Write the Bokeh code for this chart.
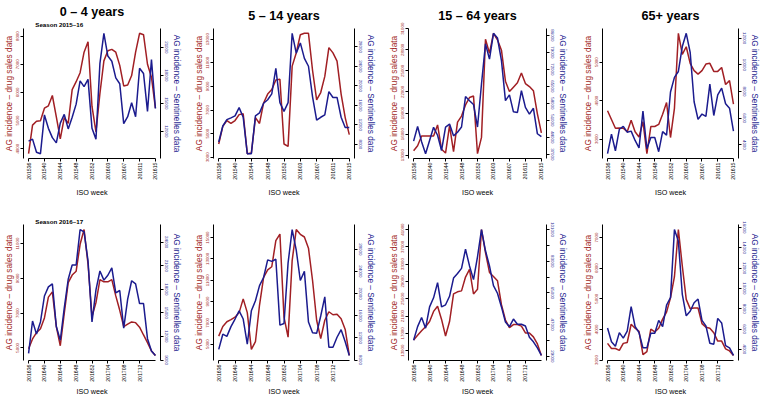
import math
from bokeh.plotting import figure
from bokeh.models import Range1d, LinearAxis, FixedTicker, Title
from bokeh.layouts import row, column
from bokeh.embed import file_html
from bokeh.resources import INLINE

FONT = "Liberation Sans"
RED = "#A11F24"
BLUE = "#1B1B8E"

# ---------------- data ----------------
age_groups = ["0 \u2013 4 years", "5 \u2013 14 years", "15 \u2013 64 years", "65+ years"]
seasons = ["Season 2015\u201316", "Season 2016\u201317"]
left_label = "AG incidence \u2013 drug sales data"
right_label = "AG incidence \u2013 Sentinelles data"

weeks_2015_16 = ["201536", "201537", "201538", "201539", "201540", "201541", "201542", "201543",
                 "201544", "201545", "201546", "201547", "201548", "201549", "201550", "201551",
                 "201552", "201553", "201601", "201602", "201603", "201604", "201605", "201606",
                 "201607", "201608", "201609", "201610", "201611", "201612", "201613", "201614",
                 "201615"]
weeks_2016_17 = ["201636", "201637", "201638", "201639", "201640", "201641", "201642", "201643",
                 "201644", "201645", "201646", "201647", "201648", "201649", "201650", "201651",
                 "201652", "201701", "201702", "201703", "201704", "201705", "201706", "201707",
                 "201708", "201709", "201710", "201711", "201712", "201713", "201714", "201715",
                 "201716"]
tick_idx_2015_16 = [0, 4, 8, 12, 16, 20, 24, 28, 32]
tick_idx_2016_17 = [0, 4, 8, 12, 16, 20, 24, 28]

# Season 2015-16: drug sales (red) and Sentinelles (blue)
drug_1516_0_4 = [3822, 4836, 4972, 4990, 5440, 5525, 5890, 5130, 4345, 5100, 4900, 6100, 6380, 6700, 7430, 7800,
                 5500, 4600, 5960, 7120, 7480, 7530, 7430, 6960, 6230, 6260, 6600, 7430, 8100, 8050, 7000, 6540, 5440]
sent_1516_0_4 = [10940, 11156, 9750, 9594, 13750, 12312, 11312, 10750, 12875, 13810, 12250, 13500, 14906, 17400,
                 16780, 17560, 12310, 11156, 19280, 22500, 20060, 19500, 17720, 17090, 12810, 13560, 15060, 13560,
                 18750, 18190, 14125, 19690, 14440]
drug_1516_5_14 = [4120, 5615, 6110, 5860, 6110, 6610, 6685, 3300, 3350, 6360, 5860, 7600, 8350, 8730, 9550, 9600,
                  4120, 3920, 10720, 11840, 13380, 13500, 13500, 10350, 7860, 8480, 9850, 12290, 11840, 11140,
                  8350, 6360, 4920]
sent_1516_5_14 = [8480, 11760, 13070, 13430, 13850, 15520, 13550, 6090, 6090, 13850, 14450, 16420, 17130, 18330,
                  23580, 16540, 14750, 16540, 30750, 26690, 28780, 25610, 24000, 17730, 12950, 13550, 14030, 18810,
                  17610, 17610, 13550, 11460, 11460]
drug_1516_15_64 = [13630, 14350, 15740, 15740, 15740, 15740, 17300, 13840, 13300, 17210, 13500, 17700, 18560,
                   20160, 21210, 21420, 13210, 15530, 29500, 27520, 30350, 29420, 27950, 23530, 22050, 22680,
                   23310, 24700, 23190, 22770, 22180, 18890, 16160]
sent_1516_15_64 = [42430, 48470, 42190, 37240, 42670, 48100, 44850, 38570, 48230, 49430, 44600, 46050, 48230,
                   60780, 59090, 57520, 48230, 65970, 82500, 76230, 86850, 84920, 75620, 59090, 61500, 54500,
                   54260, 63190, 56310, 53540, 55950, 45450, 44240]
drug_1516_65 = [3735, 3508, 3280, 3288, 3280, 3190, 3490, 3190, 3053, 3455, 2620, 3326, 3326, 3380, 3644, 3950,
                3040, 3800, 5750, 5200, 5400, 4970, 4780, 4690, 4780, 4950, 4970, 4760, 4760, 4860, 4420, 4520, 3910]
sent_1516_65 = [3340, 4810, 3560, 5170, 5390, 4950, 5030, 4330, 3780, 6530, 3710, 4550, 4550, 3490, 4990, 4730,
                7960, 9060, 9500, 11370, 12360, 10930, 7230, 5910, 6310, 6130, 8550, 6200, 7740, 8250, 7080, 6750, 5030]

# Season 2016-17
drug_1617_0_4 = [4950, 5510, 5870, 6100, 6720, 7920, 8220, 6220, 5120, 6980, 8750, 9190, 9410, 10960, 11810, 9810,
                 6800, 7600, 8930, 8800, 8800, 8930, 7990, 7160, 6220, 6360, 6490, 6450, 6190, 5740, 5300, 4820, 4560]
sent_1617_0_4 = [9850, 13970, 12300, 13850, 17150, 18310, 18700, 13270, 11520, 15600, 19280, 21100, 21100, 25610,
                 25300, 21610, 13850, 17920, 20330, 19170, 19790, 20720, 17540, 17850, 13070, 16760, 19090, 18700,
                 16180, 16180, 11720, 10160, 9580]
drug_1617_5_14 = [5750, 6660, 7100, 7300, 7530, 7960, 9250, 7960, 4510, 5230, 8670, 11260, 11970, 12260, 14700,
                  15330, 7530, 5660, 12840, 15750, 15300, 15050, 14000, 10970, 7240, 5520, 7240, 8040, 7760, 7810,
                  7380, 6380, 3940]
sent_1617_5_14 = [9920, 12660, 12270, 14030, 15400, 16880, 15400, 10850, 16880, 18690, 21430, 22900, 26080, 25810,
                  26190, 14300, 14580, 25540, 31560, 27840, 22360, 24000, 14850, 12930, 12820, 15950, 19400, 10300,
                  10300, 12110, 13480, 11290, 8820]
drug_1617_15_64 = [15480, 16550, 17610, 18530, 19740, 22080, 23280, 20230, 16400, 19740, 26120, 26610, 26830,
                   30020, 31790, 26120, 27180, 41000, 35690, 31080, 30160, 29170, 23640, 20090, 18320, 19030,
                   19030, 18670, 17110, 17110, 16190, 14560, 11900]
sent_1617_15_64 = [38130, 45880, 51040, 45010, 57070, 62230, 70850, 57070, 58270, 63100, 73430, 76010, 78940,
                   89790, 80320, 72570, 85480, 100980, 88930, 80320, 69120, 64820, 57070, 48460, 45880, 50180,
                   47250, 47250, 46220, 39850, 37270, 33820, 29520]
drug_1617_65 = [3545, 3376, 3376, 3317, 3545, 3574, 4168, 4040, 3940, 3178, 3277, 4010, 3920, 4040, 4337, 4564,
                5030, 5720, 7260, 6070, 4980, 4680, 4700, 4700, 4190, 4070, 4040, 3890, 3620, 3620, 3366, 3297, 3150]
sent_1617_65 = [6100, 4750, 4300, 5650, 5110, 5800, 8200, 6250, 5650, 4150, 4150, 5590, 5590, 6850, 6250, 8350,
                9100, 15790, 14650, 9400, 7300, 7750, 8590, 8950, 6850, 6310, 4600, 4510, 7050, 6600, 4360, 4150, 3400]

# axis tick values (drug sales / Sentinelles) per panel
drug_ticks = [
    [[4000, 5000, 6000, 7000, 8000], [3000, 5000, 7000, 9000, 11000, 13000],
     [13000, 16000, 19000, 22000, 25000, 28000, 31000], [3000, 4000, 5000]],
    [[5000, 7000, 9000, 11000], [5000, 7000, 9000, 11000, 13000, 15000],
     [13000, 17000, 21000, 25000, 29000, 33000, 37000, 41000], [3000, 4000, 5000, 6000, 7000]],
]
sent_ticks = [
    [[12000, 15000, 18000, 21000], [8000, 12000, 16000, 20000, 24000, 28000],
     [37000, 44000, 51000, 58000, 65000, 72000, 79000, 86000], [4000, 6000, 8000, 10000, 12000]],
    [[9000, 12000, 15000, 18000, 21000, 24000], [8000, 12000, 16000, 20000, 24000, 28000],
     [29000, 38000, 47000, 56000, 65000, 74000, 83000, 92000, 101000], [4000, 6000, 8000, 10000, 12000, 14000, 16000]],
]
sent_unlabelled = [38000, 56000, 74000, 92000]

drug = [[drug_1516_0_4, drug_1516_5_14, drug_1516_15_64, drug_1516_65],
        [drug_1617_0_4, drug_1617_5_14, drug_1617_15_64, drug_1617_65]]
sent = [[sent_1516_0_4, sent_1516_5_14, sent_1516_15_64, sent_1516_65],
        [sent_1617_0_4, sent_1617_5_14, sent_1617_15_64, sent_1617_65]]
weeks = [weeks_2015_16, weeks_2016_17]
tick_idx = [tick_idx_2015_16, tick_idx_2016_17]

# ---------------- layout ----------------
COL_W = [190, 190, 190, 192]
COL_L = [19, 23, 28, 32]
COL_R = [30, 26, 21, 20]
ROW_H = 199
ROW_T = [22, 25]
ROW_B = [35, 32]
XLAB_STANDOFF = [5, 2]


def base_axis(ax, color):
    ax.axis_line_color = "black"
    ax.axis_line_width = 1
    ax.major_tick_line_color = "black"
    ax.major_tick_out = 3
    ax.major_tick_in = 0
    ax.minor_tick_line_color = None
    ax.minor_tick_out = 0
    ax.major_label_text_font = FONT
    ax.major_label_text_color = color
    ax.major_label_standoff = 1
    ax.axis_label_text_font = FONT
    ax.axis_label_text_font_style = "normal"
    ax.axis_label_text_color = color
    ax.axis_label_standoff = 0


def panel(ri, ci):
    red = drug[ri][ci]
    blue = sent[ri][ci]
    wk = weeks[ri]
    n = len(red)
    xs = list(range(n))
    pad = 0.04
    span = xs[-1] - xs[0]
    x0, x1 = xs[0] - pad * span, xs[-1] + pad * span
    rlo, rhi = min(red), max(red)
    rd = rhi - rlo
    blo, bhi = min(blue), max(blue)
    bd = bhi - blo
    p = figure(width=COL_W[ci], height=ROW_H, x_range=Range1d(x0, x1),
               y_range=Range1d(rlo - pad * rd, rhi + pad * rd),
               output_backend="svg", toolbar_location=None, title_location=None,
               min_border_left=COL_L[ci], min_border_right=COL_R[ci],
               min_border_top=ROW_T[ri], min_border_bottom=ROW_B[ri])
    p.extra_y_ranges = {"blue": Range1d(blo - pad * bd, bhi + pad * bd)}
    p.xgrid.visible = False
    p.ygrid.visible = False
    p.outline_line_color = None
    p.background_fill_color = "white"
    p.border_fill_color = "white"

    p.line(xs, red, line_color=RED, line_width=1.5)
    p.line(xs, blue, line_color=BLUE, line_width=1.5, y_range_name="blue")

    # left axis (drug sales)
    lax = p.yaxis[0]
    base_axis(lax, RED)
    lax.ticker = FixedTicker(ticks=drug_ticks[ri][ci])
    lax.major_label_overrides = {t: str(t) for t in drug_ticks[ri][ci]}
    lax.major_label_text_font_size = "4.4px"
    lax.major_label_orientation = "vertical"
    lax.axis_label = left_label
    lax.axis_label_text_font_size = "8.3px"

    # right axis (Sentinelles)
    rax = LinearAxis(y_range_name="blue")
    base_axis(rax, BLUE)
    st = sent_ticks[ri][ci]
    rax.ticker = FixedTicker(ticks=st)
    rax.major_label_overrides = {t: ("" if (ri == 1 and ci == 2 and t in sent_unlabelled) else str(t)) for t in st}
    rax.major_label_text_font_size = "4.4px"
    rax.major_label_orientation = "vertical"
    rax.axis_label = right_label
    rax.axis_label_text_font_size = "8.3px"
    rax.axis_label_standoff = 1
    p.add_layout(rax, "right")

    # x axis
    xax = p.xaxis[0]
    base_axis(xax, "black")
    xax.ticker = FixedTicker(ticks=tick_idx[ri])
    xax.major_label_overrides = {i: wk[i] for i in tick_idx[ri]}
    xax.major_label_text_font_size = "5.2px"
    xax.major_label_orientation = math.pi / 2
    xax.bounds = (xs[0], xs[-1])
    xax.axis_label = "ISO week"
    xax.axis_label_text_font_size = "7.2px"
    xax.axis_label_standoff = XLAB_STANDOFF[ri]

    if ci == 0:
        p.add_layout(Title(text=seasons[ri], align="left", offset=11.75, standoff=1 if ri == 0 else 0,
                           text_font=FONT, text_font_size="6.2px", text_font_style="bold",
                           text_color="black"), "above")
    if ri == 0:
        p.add_layout(Title(text=age_groups[ci], align="center", standoff=0 if ci == 0 else 12,
                           text_font=FONT, text_font_size="12.6px", text_font_style="bold",
                           text_color="black"), "above")
    return p


rows = [row(*[panel(ri, ci) for ci in range(4)]) for ri in range(2)]
layout = column(*rows)

open("out.html", "w").write(file_html(layout, INLINE))
